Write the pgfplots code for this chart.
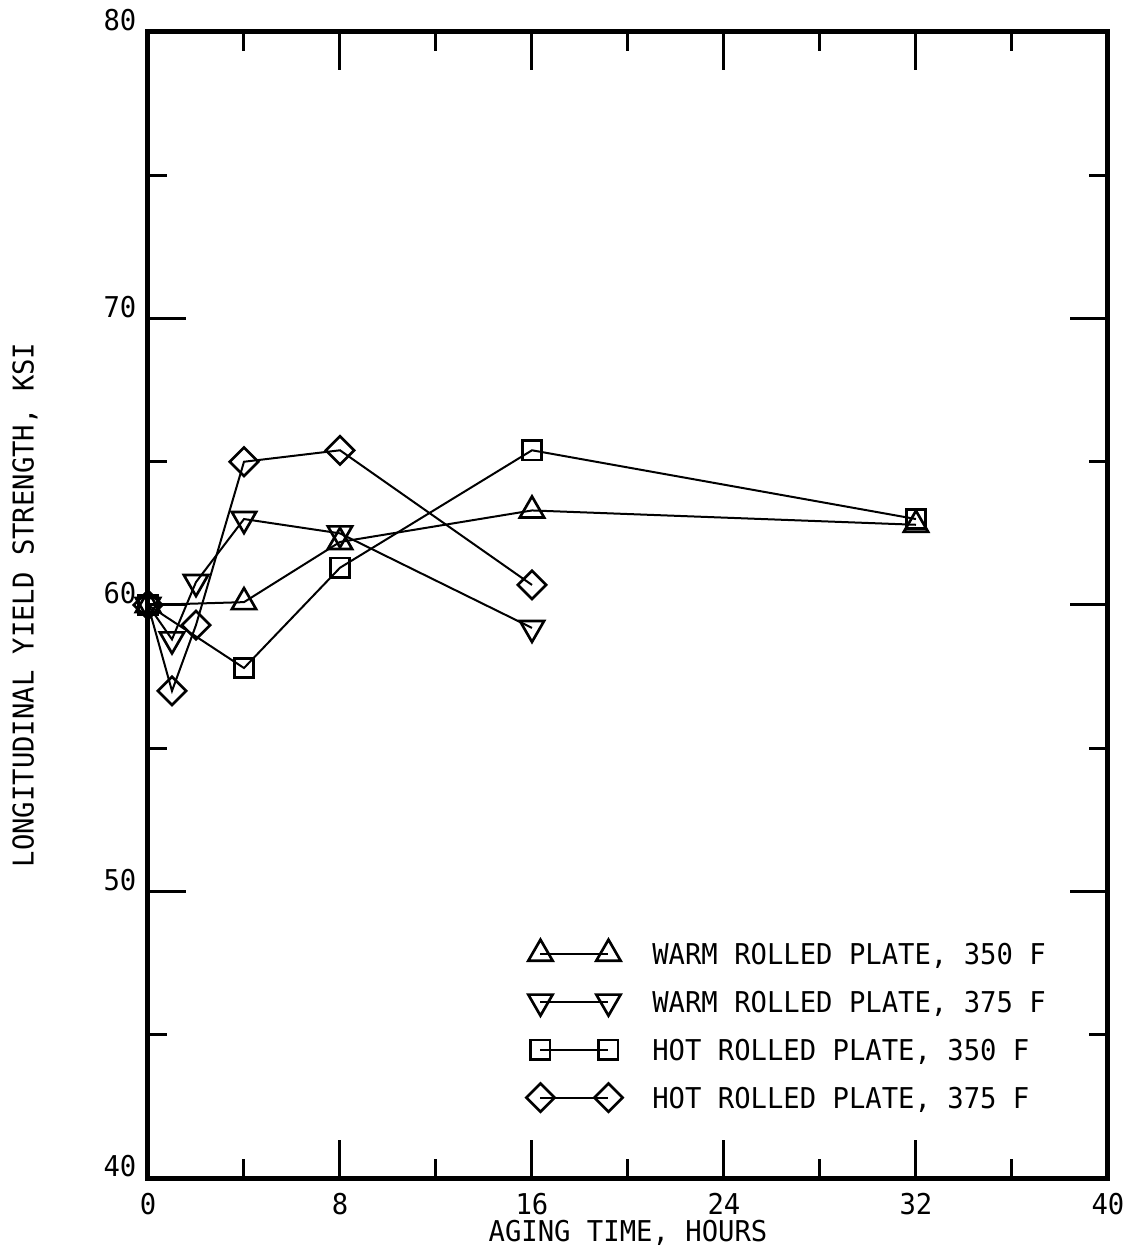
\documentclass[border=0pt]{standalone}
\usepackage{pgfplots}
\pgfplotsset{compat=1.18}
\usepackage{fontspec}
\setmainfont{DejaVu Sans Mono}[FakeStretch=0.95]
\begin{document}
\fontsize{8.6}{10}\selectfont
\begin{tikzpicture}[mk/.style={line width=0.8pt, solid, fill=none}]
\begin{axis}[name=ax, scale only axis, width=288pt, height=343.8pt,
 xmin=0, xmax=40, ymin=40, ymax=80,
 xtick={0,8,...,40}, minor xtick={4,12,...,36},
 ytick={40,50,...,80}, minor ytick={45,55,65,75},
 tick align=inside, major tick length=11.4pt, minor tick length=5.7pt,
 every tick/.style={black, line width=0.9pt},
 axis line style={line width=1.5pt},
 /pgf/number format/assume math mode=true,
 xticklabel style={inner sep=0pt, anchor=north, yshift=-4.5pt},
 yticklabel style={anchor=south east, inner sep=0pt, xshift=-3.3pt},
 xlabel={AGING TIME, HOURS}, ylabel={LONGITUDINAL YIELD STRENGTH, KSI},
 xlabel style={at={(axis description cs:0.5,-0.0366)}, anchor=north, inner sep=0pt},
 ylabel style={at={(axis description cs:-0.128,0.5)}, anchor=center},
 legend style={at={(axis description cs:0.3934,0.2103)}, anchor=north west, draw=none, fill=none,
   inner sep=0pt, row sep=4.8pt, column sep=8.9pt,
   nodes={inner sep=0pt, text height=6.3pt, text depth=0pt}},
 legend cell align=left,
 legend image code/.code={\path[draw=none, fill=none] (0pt,-4.8pt) -- (0pt,4.8pt);\draw[#1] plot coordinates {(0pt,0pt) (20.4pt,0pt)};},
]
\addplot[black, line width=0.6pt, mark=triangle, mark size=4.2pt, mark options={mk}] coordinates {(0,60.0) (4,60.1) (8,62.2) (16,63.3) (32,62.8)};
\addlegendentry{WARM ROLLED PLATE, 350 F}
\addplot[black, line width=0.6pt, mark=triangle, mark size=4.2pt, mark options={mk, rotate=180}] coordinates {(0,60.0) (1,58.8) (2,60.8) (4,63.0) (8,62.5) (16,59.2)};
\addlegendentry{WARM ROLLED PLATE, 375 F}
\addplot[black, line width=0.6pt, mark=square, mark size=2.9pt, mark options={mk}] coordinates {(0,60.0) (4,57.8) (8,61.3) (16,65.4) (32,63.0)};
\addlegendentry{HOT ROLLED PLATE, 350 F}
\addplot[black, line width=0.6pt, mark=square, mark size=3.0pt, mark options={mk, rotate=45}] coordinates {(0,60.0) (1,57.0) (2,59.3) (4,65.0) (8,65.4) (16,60.7)};
\addlegendentry{HOT ROLLED PLATE, 375 F}
\end{axis}
\pgfresetboundingbox
\path ([shift={(-44.4pt,-21.6pt)}]ax.south west) rectangle ([shift={(6.3pt,9.6pt)}]ax.north east);
\end{tikzpicture}
\end{document}
